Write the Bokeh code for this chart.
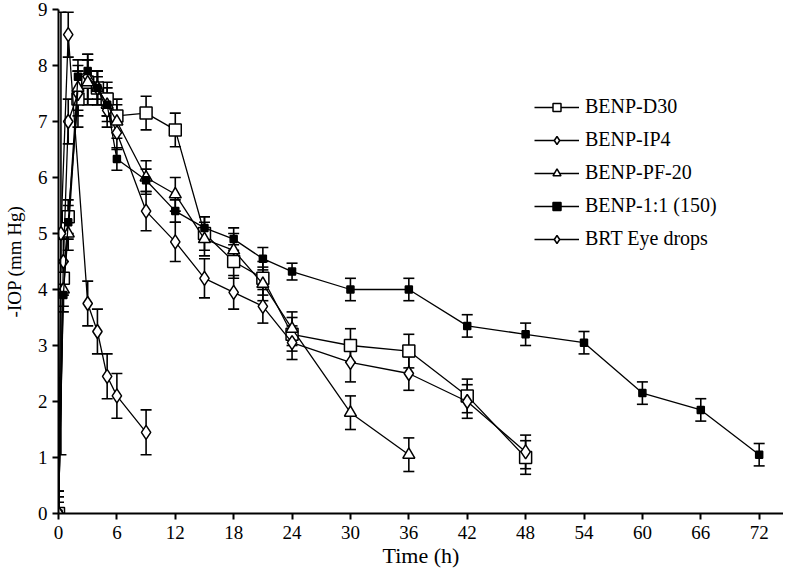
from bokeh.plotting import figure
from bokeh.models import (ColumnDataSource, Whisker, TeeHead, Legend, LegendItem,
                          Range1d, FixedTicker)
from bokeh.embed import file_html
from bokeh.resources import INLINE

# ---- data ----
x_ticks = [0, 6, 12, 18, 24, 30, 36, 42, 48, 54, 60, 66, 72]
y_ticks = [0, 1, 2, 3, 4, 5, 6, 7, 8, 9]

d30_t = [0, 0.5, 1, 2, 3, 4, 5, 6, 9, 12, 15, 18, 21, 24, 30, 36, 42, 48]
d30_v = [0, 4.2, 5.3, 7.4, 7.7, 7.6, 7.4, 7.1, 7.15, 6.85, 5.0, 4.5, 4.2, 3.2, 3.0, 2.9, 2.1, 1.0]
d30_e = [0.4, 0.3, 0.3, 0.5, 0.4, 0.3, 0.3, 0.3, 0.3, 0.3, 0.3, 0.3, 0.3, 0.3, 0.3, 0.3, 0.3, 0.3]

ip4_t = [0, 0.5, 1, 2, 3, 4, 5, 6, 9, 12, 15, 18, 21, 24, 30, 36, 42, 48]
ip4_v = [0, 4.5, 7.0, 7.5, 7.8, 7.6, 7.2, 6.8, 5.4, 4.85, 4.2, 3.95, 3.7, 3.05, 2.7, 2.5, 2.0, 1.1]
ip4_e = [0.3, 0.4, 0.4, 0.4, 0.4, 0.3, 0.3, 0.3, 0.35, 0.35, 0.35, 0.3, 0.3, 0.3, 0.35, 0.3, 0.3, 0.3]

pf_t = [0, 0.5, 1, 2, 3, 4, 5, 6, 9, 12, 15, 18, 21, 24, 30, 36]
pf_v = [0, 4.0, 5.0, 7.6, 7.7, 7.6, 7.3, 7.0, 6.0, 5.7, 4.9, 4.7, 4.1, 3.3, 1.8, 1.05]
pf_e = [0.3, 0.3, 0.3, 0.4, 0.4, 0.3, 0.3, 0.3, 0.3, 0.3, 0.3, 0.3, 0.3, 0.3, 0.3, 0.3]

b11_t = [0, 0.5, 1, 2, 3, 4, 5, 6, 9, 12, 15, 18, 21, 24, 30, 36, 42, 48, 54, 60, 66, 72]
b11_v = [0, 3.9, 5.2, 7.8, 7.9, 7.6, 7.3, 6.33, 5.95, 5.4, 5.1, 4.9, 4.55, 4.32, 4.0, 4.0,
         3.35, 3.2, 3.05, 2.15, 1.85, 1.05]
b11_e = [0.2, 0.3, 0.3, 0.3, 0.3, 0.2, 0.2, 0.2, 0.2, 0.2, 0.2, 0.2, 0.2, 0.15, 0.2, 0.2,
         0.2, 0.2, 0.2, 0.2, 0.2, 0.2]

brt_t = [0, 0.25, 1, 3, 4, 5, 6, 9]
brt_v = [0, 5.0, 8.55, 3.75, 3.25, 2.45, 2.1, 1.45]
brt_e = [0.4, 3.95, 0.4, 0.4, 0.4, 0.4, 0.4, 0.4]

labels = ["BENP-D30", "BENP-IP4", "BENP-PF-20", "BENP-1:1 (150)", "BRT Eye drops"]
x_title = "Time (h)"
y_title = "-IOP (mm Hg)"

FONT = "Liberation Serif"

p = figure(width=783, height=570, x_range=Range1d(0, 74.5), y_range=Range1d(0, 9),
           output_backend="svg", toolbar_location=None,
           min_border_left=53, min_border_right=0, min_border_top=9, min_border_bottom=50)
p.grid.visible = False
p.outline_line_color = None
p.background_fill_color = "white"

for ax in (p.xaxis[0], p.yaxis[0]):
    ax.axis_line_width = 2
    ax.axis_line_color = "black"
    ax.major_tick_line_width = 2
    ax.major_tick_line_color = "black"
    ax.major_tick_out = 6
    ax.major_tick_in = 0
    ax.minor_tick_line_color = None
    ax.major_label_text_font = FONT
    ax.major_label_text_font_size = "19px"
    ax.major_label_text_color = "black"
    ax.axis_label_text_font = FONT
    ax.axis_label_text_font_style = "normal"
    ax.axis_label_text_color = "black"

p.xaxis.ticker = FixedTicker(ticks=x_ticks)
p.yaxis.ticker = FixedTicker(ticks=y_ticks)
p.xaxis.axis_label = x_title
p.yaxis.axis_label = y_title
p.xaxis.axis_label_text_font_size = "22px"
p.yaxis.axis_label_text_font_size = "19px"
p.xaxis.major_label_standoff = 6
p.xaxis.axis_label_standoff = 1
p.yaxis.major_label_standoff = 5
p.yaxis.axis_label_standoff = 10

series = [
    (d30_t, d30_v, d30_e, "square", 12, "white"),
    (ip4_t, ip4_v, ip4_e, "diamond", 14, "white"),
    (pf_t, pf_v, pf_e, "triangle", 12, "white"),
    (b11_t, b11_v, b11_e, "square", 7, "black"),
    (brt_t, brt_v, brt_e, "diamond", 14, "white"),
]

items = []
for (t, v, e, mk, sz, fill), lab in zip(series, labels):
    src = ColumnDataSource(dict(t=t, v=v,
                                up=[a + b for a, b in zip(v, e)],
                                lo=[max(a - b, 0) for a, b in zip(v, e)]))
    w = Whisker(source=src, base="t", upper="up", lower="lo", dimension="height",
                line_color="black", line_width=1.6,
                upper_head=TeeHead(size=11, line_width=1.6, line_color="black"),
                lower_head=TeeHead(size=11, line_width=1.6, line_color="black"))
    p.add_layout(w)
    lr = p.line("t", "v", source=src, line_color="black", line_width=1.3)
    sr = p.scatter("t", "v", source=src, marker=mk, size=sz, fill_color=fill,
                   line_color="black", line_width=1.5)
    items.append(LegendItem(label=lab, renderers=[lr, sr]))

legend = Legend(items=items, location=(476, 263), orientation="vertical",
                glyph_width=45, glyph_height=20, label_height=20, spacing=10,
                label_standoff=6, padding=0, margin=0,
                border_line_color=None, background_fill_alpha=0,
                label_text_font=FONT, label_text_font_size="20px",
                label_text_color="black")
p.add_layout(legend)

open("out.html", "w").write(file_html(p, INLINE))
